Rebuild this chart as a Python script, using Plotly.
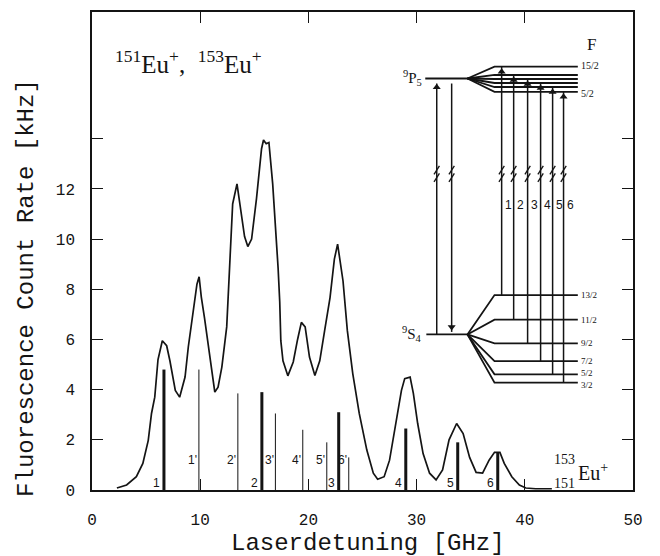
import plotly.graph_objects as go

# ---------------- data ----------------
curve_x = [2.3, 3.2, 4.1, 4.7, 5.2, 5.5, 5.8, 6.1, 6.5, 6.9, 7.2, 7.7, 8.1, 8.6, 8.9, 9.2,
           9.7, 9.9, 10.1, 10.4, 10.9, 11.35, 11.65, 12.0, 12.45, 12.7, 13.0, 13.4, 13.8,
           14.1, 14.4, 14.75, 15.2, 15.67, 15.85, 16.1, 16.35, 16.7, 17.2, 17.35, 17.45,
           17.65, 18.1, 18.6, 19.0, 19.35, 19.7, 20.1, 20.6, 21.05, 21.5, 22.0, 22.4, 22.7,
           23.2, 23.6, 24.1, 24.7, 25.4, 26.0, 26.4, 27.0, 27.5, 28.1, 28.6, 28.9, 29.4,
           29.7, 30.1, 30.6, 31.2, 31.8, 32.4, 33.0, 33.7, 34.3, 34.9, 35.5, 36.1, 36.7,
           37.2, 37.7, 38.1, 38.8, 39.5, 40.1, 41.0, 42.5]
curve_y = [0.08, 0.2, 0.53, 1.06, 1.98, 3.05, 3.7, 5.2, 5.95, 5.75, 5.15, 3.97, 3.7, 4.5,
           5.7, 6.6, 8.2, 8.5, 7.7, 6.85, 5.3, 3.9, 4.1, 4.9, 6.5, 9.0, 11.4, 12.2, 11.0,
           10.1, 9.7, 10.0, 11.6, 13.6, 13.95, 13.8, 13.85, 12.2, 8.85, 7.5, 5.95,
           5.15, 4.55, 5.1, 6.0, 6.68, 6.5, 5.3, 4.56, 5.15, 6.35, 7.67, 9.2, 9.8,
           8.33, 6.35, 4.64, 3.05, 1.59, 0.67, 0.43, 0.53, 1.19, 2.65, 3.97, 4.44, 4.5,
           3.85, 2.65, 1.45, 0.67, 0.4, 0.8, 2.0, 2.65, 2.25, 1.3, 0.7, 0.67, 1.19,
           1.5, 1.5, 1.06, 0.53, 0.2, 0.08, 0.05, 0.05]

# 151Eu+ components (thick sticks) and 153Eu+ components (thin sticks)
eu151_x = [6.65, 15.70, 22.80, 29.00, 33.80, 37.50]
eu151_h = [4.8, 3.9, 3.1, 2.45, 1.9, 1.5]
eu151_lbl = ["1", "2", "3", "4", "5", "6"]
eu153_x = [9.88, 13.48, 16.95, 19.48, 21.70, 23.73]
eu153_h = [4.8, 3.85, 3.05, 2.4, 1.9, 1.3]
eu153_lbl = ["1'", "2'", "3'", "4'", "5'", "6'"]

# level scheme (inset)
upper_J_y = 16.4
lower_J_y = 6.2
upper_F_lbl = ["15/2", "", "", "", "", "5/2"]
upper_F_y = [16.87, 16.54, 16.38, 16.22, 16.06, 15.87]
upper_lbl_y = [16.9, None, None, None, None, 15.8]
lower_F_lbl = ["13/2", "11/2", "9/2", "7/2", "5/2", "3/2"]
lower_F_y = [7.77, 6.79, 5.84, 5.14, 4.61, 4.28]
lower_lbl_y = [7.77, 6.79, 5.84, 5.16, 4.68, 4.2]
trans_x = [37.86, 38.97, 40.26, 41.46, 42.57, 43.58]
trans_lbl = ["1", "2", "3", "4", "5", "6"]
scheme_x = dict(j_start=30.8, j_end=34.7, fan_end=37.2, f_end=44.9,
                arrow_up=31.86, arrow_down=33.24, brk=12.6, num=11.35)

x_ticks = [0, 10, 20, 30, 40, 50]
y_ticks = [0, 2, 4, 6, 8, 10, 12, 14]
y_ticktext = ["0", "2", "4", "6", "8", "10", "12", ""]

INK = "#141414"
fig = go.Figure()

# sticks
def sticks(xs, hs):
    X, Y = [], []
    for x, h in zip(xs, hs):
        X += [x, x, None]
        Y += [0, h, None]
    return X, Y

sx, sy = sticks(eu151_x, eu151_h)
fig.add_trace(go.Scatter(x=sx, y=sy, mode="lines", line=dict(color=INK, width=3),
                         hoverinfo="skip", showlegend=False))
sx, sy = sticks(eu153_x, eu153_h)
fig.add_trace(go.Scatter(x=sx, y=sy, mode="lines", line=dict(color=INK, width=1),
                         hoverinfo="skip", showlegend=False))

# spectrum
fig.add_trace(go.Scatter(x=curve_x, y=curve_y, mode="lines",
                         line=dict(color=INK, width=1.7), showlegend=False))

# level scheme
LX, LY = [], []
LX += [scheme_x["j_start"], scheme_x["j_end"], None]
LY += [upper_J_y, upper_J_y, None]
for yf in upper_F_y:
    LX += [scheme_x["j_end"], scheme_x["fan_end"], scheme_x["f_end"], None]
    LY += [upper_J_y, yf, yf, None]
LX += [scheme_x["j_start"] + 0.1, scheme_x["j_end"], None]
LY += [lower_J_y, lower_J_y, None]
for yf in lower_F_y:
    LX += [scheme_x["j_end"], scheme_x["fan_end"], scheme_x["f_end"], None]
    LY += [lower_J_y, yf, yf, None]
fig.add_trace(go.Scatter(x=LX, y=LY, mode="lines", line=dict(color=INK, width=1.8),
                         hoverinfo="skip", showlegend=False))

# transitions
TX, TY = [], []
TX += [scheme_x["arrow_up"], scheme_x["arrow_up"], None]
TY += [lower_J_y, upper_J_y - 0.2, None]
TX += [scheme_x["arrow_down"], scheme_x["arrow_down"], None]
TY += [upper_J_y - 0.2, lower_J_y + 0.1, None]
for x, yl, yu in zip(trans_x, lower_F_y, upper_F_y):
    TX += [x, x, None]
    TY += [yl, yu, None]
fig.add_trace(go.Scatter(x=TX, y=TY, mode="lines", line=dict(color=INK, width=1.5),
                         hoverinfo="skip", showlegend=False))
# arrow heads
hx = [scheme_x["arrow_up"]] + trans_x
hy = [upper_J_y - 0.35] + [y - 0.2 for y in upper_F_y]
fig.add_trace(go.Scatter(x=hx, y=hy, mode="markers",
                         marker=dict(symbol="triangle-up", size=7, color=INK),
                         hoverinfo="skip", showlegend=False))
fig.add_trace(go.Scatter(x=[scheme_x["arrow_down"]], y=[lower_J_y + 0.3], mode="markers",
                         marker=dict(symbol="triangle-down", size=7, color=INK),
                         hoverinfo="skip", showlegend=False))
# break marks
BX, BY = [], []
for x in [scheme_x["arrow_up"], scheme_x["arrow_down"]] + trans_x:
    for yc in (scheme_x["brk"] - 0.15, scheme_x["brk"] + 0.15):
        BX += [x - 0.25, x + 0.25, None]
        BY += [yc - 0.17, yc + 0.17, None]
fig.add_trace(go.Scatter(x=BX, y=BY, mode="lines", line=dict(color=INK, width=1.3),
                         hoverinfo="skip", showlegend=False))

ann = []
SERIF = "Liberation Serif"
MONO = "Liberation Mono"
SANS = "Liberation Sans"
# stick labels
for x, t in zip(eu151_x, eu151_lbl):
    ann.append(dict(x=x - 0.15, y=0.28, text=t, xanchor="right", yanchor="middle",
                    showarrow=False, font=dict(family=SANS, size=12, color=INK)))
for x, t in zip(eu153_x, eu153_lbl):
    ann.append(dict(x=x + 0.05, y=1.2, text=t, xanchor="right", yanchor="middle",
                    showarrow=False, font=dict(family=SANS, size=12, color=INK)))
# F labels
for y, t in zip(upper_lbl_y, upper_F_lbl):
    if t:
        ann.append(dict(x=scheme_x["f_end"] + 0.15, y=y, text=t, xanchor="left",
                        yanchor="middle", showarrow=False,
                        font=dict(family=SERIF, size=10, color=INK)))
for y, t in zip(lower_lbl_y, lower_F_lbl):
    ann.append(dict(x=scheme_x["f_end"] + 0.15, y=y, text=t, xanchor="left",
                    yanchor="middle", showarrow=False,
                    font=dict(family=SERIF, size=9, color=INK)))
ann.append(dict(x=46.2, y=17.74, text="F", showarrow=False,
                font=dict(family=SERIF, size=17, color=INK)))
ann.append(dict(x=scheme_x["j_start"] - 0.1, y=upper_J_y, text="<sup>9</sup>P<sub>5</sub>",
                xanchor="right", yanchor="middle", showarrow=False,
                font=dict(family=SERIF, size=15, color=INK)))
ann.append(dict(x=scheme_x["j_start"] - 0.1, y=lower_J_y, text="<sup>9</sup>S<sub>4</sub>",
                xanchor="right", yanchor="middle", showarrow=False,
                font=dict(family=SERIF, size=15, color=INK)))
for x, t in zip(trans_x, trans_lbl):
    ann.append(dict(x=x + 0.1, y=scheme_x["num"], text=t, xanchor="left", yanchor="middle",
                    showarrow=False, font=dict(family=SANS, size=12, color=INK)))
# isotope labels
ann.append(dict(x=1.94, y=17.06,
                text="<sup>151</sup>Eu<sup>+</sup>,  <sup>153</sup>Eu<sup>+</sup>",
                xanchor="left", yanchor="middle", showarrow=False,
                font=dict(family=SERIF, size=25, color=INK)))
ann.append(dict(x=46.3, y=0.71, text="Eu<sup>+</sup>", showarrow=False,
                font=dict(family=SERIF, size=20, color=INK)))
ann.append(dict(x=43.7, y=1.23, text="153", showarrow=False,
                font=dict(family=SERIF, size=14, color=INK)))
ann.append(dict(x=43.7, y=0.24, text="151", showarrow=False,
                font=dict(family=SERIF, size=14, color=INK)))
# axis titles
ann.append(dict(x=25.5, xref="x", y=-0.112, yref="paper", text="Laserdetuning [GHz]",
                showarrow=False, yanchor="middle",
                font=dict(family=MONO, size=24, color=INK)))
ann.append(dict(x=-0.12, xref="paper", y=0.423, yref="paper",
                text="Fluorescence Count Rate [kHz]", textangle=-90, showarrow=False,
                xanchor="center", font=dict(family=MONO, size=24, color=INK)))

axis_common = dict(showline=True, linecolor=INK, linewidth=1.5, mirror="ticks",
                   ticks="inside", ticklen=11, tickwidth=1.2, tickcolor=INK,
                   showgrid=False, zeroline=False,
                   tickfont=dict(family=MONO, size=16, color=INK))

fig.update_layout(
    width=660, height=556,
    margin=dict(l=92, r=27, t=10, b=66),
    paper_bgcolor="white", plot_bgcolor="white",
    annotations=ann,
    xaxis=dict(range=[0, 50], tickvals=x_ticks, ticklabelstandoff=14, **axis_common),
    yaxis=dict(range=[0, 19.05], tickvals=y_ticks, ticktext=y_ticktext,
               ticklabelstandoff=12, **axis_common),
)

fig.write_html("out.html")
